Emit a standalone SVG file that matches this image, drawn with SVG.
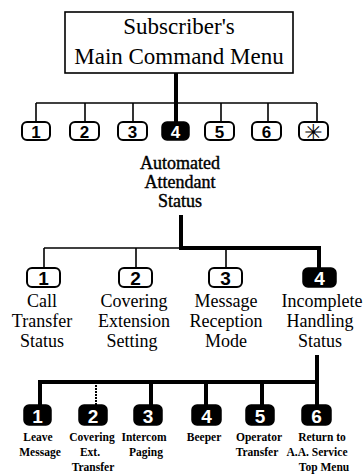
<svg xmlns="http://www.w3.org/2000/svg" width="364" height="475" viewBox="0 0 364 475">
<style>
.bg{fill:#fff}
.box{fill:#fff;stroke:#000;stroke-width:1.6}
.key{fill:#fff;stroke:#000;stroke-width:2}
.keyb{fill:#000;stroke:#000;stroke-width:1.5}
.kd{font-family:"Liberation Sans",Arial,sans-serif;font-weight:bold;text-anchor:middle;fill:#000}
.kw{font-family:"Liberation Sans",Arial,sans-serif;font-weight:bold;text-anchor:middle;fill:#fff}
.title{font-family:"Liberation Serif","Times New Roman",serif;font-size:23px;text-anchor:middle;fill:#000}
.l1{font-family:"Liberation Serif","Times New Roman",serif;font-size:18px;text-anchor:middle;fill:#000;stroke:#000;stroke-width:0.4}
.l2{font-family:"Liberation Serif","Times New Roman",serif;font-size:18px;text-anchor:middle;fill:#000}
.l3{font-family:"Liberation Serif","Times New Roman",serif;font-size:11.5px;font-weight:bold;text-anchor:middle;fill:#000}
.thin{stroke:#000;stroke-width:1.6;fill:none}
.thick{stroke:#000;stroke-width:4;fill:none}
.mid{stroke:#000;stroke-width:2;fill:none;stroke-dasharray:2 1}
</style>
<rect class="bg" x="0" y="0" width="364" height="475"/>
<g id="connectors">
  <line class="thick" x1="176" y1="73" x2="176" y2="122"/>
  <line class="thin" x1="36" y1="103" x2="317" y2="103"/>
  <line class="thin" x1="36" y1="103" x2="36" y2="122"/>
  <line class="thin" x1="85" y1="103" x2="85" y2="122"/>
  <line class="thin" x1="133" y1="103" x2="133" y2="122"/>
  <line class="thin" x1="221" y1="103" x2="221" y2="122"/>
  <line class="thin" x1="268" y1="103" x2="268" y2="122"/>
  <line class="thin" x1="317" y1="103" x2="317" y2="122"/>
  <line class="thick" x1="181" y1="215" x2="181" y2="248"/>
  <line class="thin" x1="44" y1="248" x2="181" y2="248"/>
  <line class="thin" x1="44" y1="248" x2="44" y2="268"/>
  <line class="thin" x1="136" y1="248" x2="136" y2="268"/>
  <line class="thin" x1="226" y1="248" x2="226" y2="268"/>
  <polyline class="thick" points="179,248 319,248 319,268"/>
  <line class="thick" x1="317" y1="355" x2="317" y2="405"/>
  <line class="thick" x1="38" y1="382" x2="319" y2="382"/>
  <line class="thick" x1="40" y1="380" x2="40" y2="405"/>
  <line class="mid" x1="96" y1="382" x2="96" y2="405"/>
  <line class="thick" x1="151" y1="380" x2="151" y2="405"/>
  <line class="thick" x1="206" y1="380" x2="206" y2="405"/>
  <line class="thick" x1="262" y1="380" x2="262" y2="405"/>
</g>
<g id="main-menu">
  <rect class="box" x="65" y="12" width="228" height="61"/>
  <text class="title" x="179" y="34">Subscriber's</text>
  <text class="title" x="179" y="64">Main Command Menu</text>
</g>
<g id="m1"><rect class="key" x="22" y="122" width="28" height="18" rx="5"/><text class="kd" x="36" y="137.5" font-size="17">1</text></g>
<g id="m2"><rect class="key" x="70" y="122" width="29" height="18" rx="5"/><text class="kd" x="84.5" y="137.5" font-size="17">2</text></g>
<g id="m3"><rect class="key" x="118" y="122" width="29" height="18" rx="5"/><text class="kd" x="132.5" y="137.5" font-size="17">3</text></g>
<g id="m4"><rect class="keyb" x="162" y="122" width="27" height="18" rx="5"/><text class="kw" x="175.5" y="137.5" font-size="17">4</text></g>
<g id="m5"><rect class="key" x="205" y="122" width="29" height="18" rx="5"/><text class="kd" x="219.5" y="137.5" font-size="17">5</text></g>
<g id="m6"><rect class="key" x="252" y="122" width="29" height="18" rx="5"/><text class="kd" x="266.5" y="137.5" font-size="17">6</text></g>
<g id="mstar"><rect class="key" x="299" y="122" width="29" height="18" rx="5"/><text x="313.5" y="139.5" font-size="22" text-anchor="middle" font-family="DejaVu Sans,sans-serif" fill="#000">✳</text></g>
<g id="aa-status">
  <text class="l1" x="180" y="169">Automated</text>
  <text class="l1" x="180" y="188">Attendant</text>
  <text class="l1" x="180" y="207">Status</text>
</g>
<g id="a1">
  <rect class="key" x="27" y="268" width="33" height="19" rx="5"/><text class="kd" x="43.5" y="285" font-size="19">1</text>
  <text class="l2" x="42" y="307">Call</text><text class="l2" x="42" y="327">Transfer</text><text class="l2" x="42" y="347">Status</text>
</g>
<g id="a2">
  <rect class="key" x="119" y="268" width="33" height="19" rx="5"/><text class="kd" x="135.5" y="285" font-size="19">2</text>
  <text class="l2" x="134" y="307">Covering</text><text class="l2" x="134" y="327">Extension</text><text class="l2" x="132" y="347">Setting</text>
</g>
<g id="a3">
  <rect class="key" x="209" y="268" width="33" height="19" rx="5"/><text class="kd" x="225.5" y="285" font-size="19">3</text>
  <text class="l2" x="226" y="307">Message</text><text class="l2" x="226" y="327">Reception</text><text class="l2" x="226" y="347">Mode</text>
</g>
<g id="a4">
  <rect class="keyb" x="303" y="268" width="33" height="19" rx="5"/><text class="kw" x="319.5" y="285" font-size="19">4</text>
  <text class="l2" x="322" y="307">Incomplete</text><text class="l2" x="320" y="327">Handling</text><text class="l2" x="320" y="347">Status</text>
</g>
<g id="h1"><rect class="keyb" x="24" y="405" width="27" height="20" rx="5"/><text class="kw" x="37.5" y="422.5" font-size="19">1</text>
  <text class="l3" x="38" y="441">Leave</text><text class="l3" x="40" y="456">Message</text></g>
<g id="h2"><rect class="keyb" x="79" y="405" width="28" height="20" rx="5"/><text class="kw" x="93" y="422.5" font-size="19">2</text>
  <text class="l3" x="92" y="441">Covering</text><text class="l3" x="90" y="456">Ext.</text><text class="l3" x="93" y="471">Transfer</text></g>
<g id="h3"><rect class="keyb" x="134" y="405" width="28" height="20" rx="5"/><text class="kw" x="148" y="422.5" font-size="19">3</text>
  <text class="l3" x="144" y="441">Intercom</text><text class="l3" x="146" y="456">Paging</text></g>
<g id="h4"><rect class="keyb" x="192" y="405" width="29" height="20" rx="5"/><text class="kw" x="206.5" y="422.5" font-size="19">4</text>
  <text class="l3" x="204" y="441">Beeper</text></g>
<g id="h5"><rect class="keyb" x="246" y="405" width="28" height="20" rx="5"/><text class="kw" x="260" y="422.5" font-size="19">5</text>
  <text class="l3" x="259" y="441">Operator</text><text class="l3" x="257" y="456">Transfer</text></g>
<g id="h6"><rect class="keyb" x="302" y="405" width="29" height="20" rx="5"/><text class="kw" x="316.5" y="422.5" font-size="19">6</text>
  <text class="l3" x="322" y="441">Return to</text><text class="l3" x="317" y="456">A.A. Service</text><text class="l3" x="324" y="471">Top Menu</text></g>
</svg>
